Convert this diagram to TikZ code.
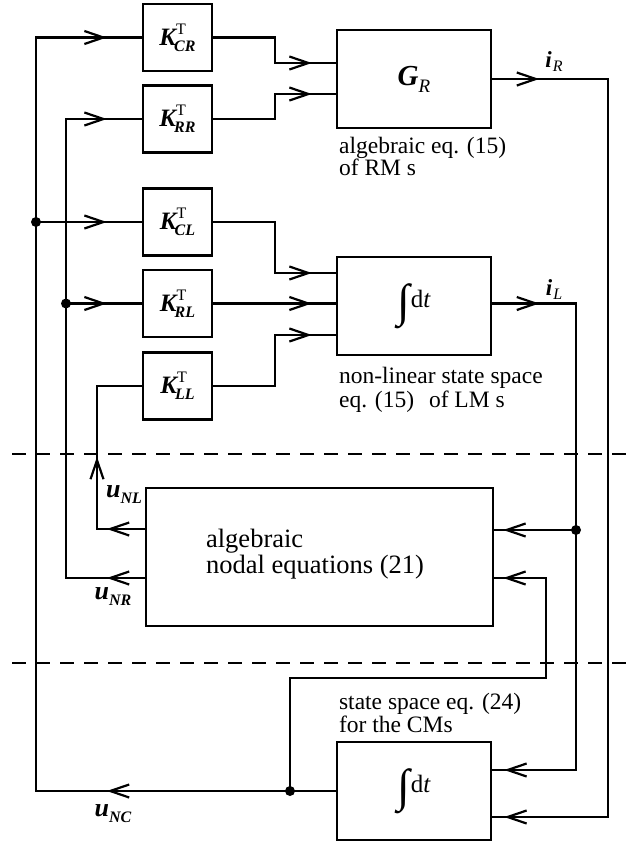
\documentclass[tikz,border=0pt]{standalone}
\usepackage{fontspec}
\setmainfont{Liberation Serif}
\usetikzlibrary{arrows.meta,decorations.markings}
\newcommand\KT[1]{{\fontsize{25}{25}\selectfont\bfseries\itshape K}\rlap{\raisebox{11pt}{\fontsize{16}{16}\selectfont T}}\raisebox{-6pt}{\kern-2pt\fontsize{16}{16}\selectfont\bfseries\itshape #1}}
\newcommand\uN[1]{{\fontsize{26}{26}\selectfont\bfseries\itshape u}\raisebox{-6pt}{\fontsize{16}{16}\selectfont\bfseries\itshape #1}}
\newcommand\iS[1]{{\fontsize{23}{23}\selectfont\bfseries\itshape i}\raisebox{-4pt}{\kern1pt\fontsize{16}{16}\selectfont\itshape #1}}
\newcommand\intdt{\raisebox{-9pt}{\fontsize{46}{46}\selectfont ∫}\kern1pt{\fontsize{25}{25}\selectfont d\textit{t}}}
\begin{document}
\begin{tikzpicture}[x=1pt,y=-1pt,line width=2.2pt,
  >={Straight Barb[length=19pt,width=13pt]},
  kbox/.style={draw,line width=2.4pt,minimum width=69pt,minimum height=67pt,inner sep=0pt},
  bigbox/.style={draw,line width=2.4pt,minimum width=154pt,minimum height=98pt,inner sep=0pt},
  arrs/.style={postaction={decorate,decoration={markings,#1}}},
  arrat/.style={arrs={mark=at position #1 with {\arrow{>}}}},
  jdot/.style={circle,fill,inner sep=0pt,minimum size=10pt},
  dashl/.style={line width=2pt,dash pattern=on 14pt off 10pt},
  lab/.style={inner sep=0pt},
  note/.style={anchor=base west,align=left,inner sep=0pt}]
\useasboundingbox (0,0) rectangle (631,844);
% blocks
\node[kbox] (kcr) at (177.5,37.5) {\KT{CR}};
\node[kbox] (krr) at (177.5,119) {\KT{RR}};
\node[kbox] (kcl) at (177.5,222) {\KT{CL}};
\node[kbox] (krl) at (177.5,303.5) {\KT{RL}};
\node[kbox] (kll) at (177.5,386) {\KT{LL}};
\node[bigbox] (gr) at (414,79) {{\fontsize{29}{29}\selectfont\bfseries\itshape G}\raisebox{-7pt}{\fontsize{19}{19}\selectfont\itshape R}};
\node[bigbox] (il) at (414,306) {\intdt};
\node[draw,line width=2.4pt,minimum width=347pt,minimum height=138pt,inner sep=0pt] (nod) at (319.5,557) {};
\node[bigbox] (ic) at (414,791) {\intdt};
% texts (base anchor = last line baseline)
\node[note,font=\fontsize{23.5}{22}\selectfont] (tgr) at (338,175) {algebraic eq. (15)\\of RM s};
\node[note,font=\fontsize{23.5}{24}\selectfont] (til) at (338,407) {non-linear state space\\eq. (15)\hspace{9pt} of LM s};
\node[note,font=\fontsize{26.5}{26}\selectfont] (tnod) at (205,573) {algebraic\\nodal equations (21)};
\node[note,font=\fontsize{23.5}{21}\selectfont] (tic) at (338,732) {state space eq. (24)\\for the CMs};
\node[lab] (liR) at (554,62) {\iS{R}};
\node[lab] (liL) at (554,290) {\iS{L}};
\node[lab] (luNL) at (124,495) {\uN{NL}};
\node[lab] (luNR) at (113,597) {\uN{NR}};
\node[lab] (luNC) at (113,814) {\uN{NC}};
% junctions
\coordinate (jA) at (36,222);
\coordinate (jB) at (66,303.5);
\coordinate (jC) at (290,791);
\coordinate (jD) at (576,530);
\coordinate (cA) at (36,791);
% dashed separators
\coordinate (d1l) at (12,454); \coordinate (d1r) at (631,454);
\coordinate (d2l) at (12,663); \coordinate (d2r) at (631,663);
\draw[dashl] (d1l) -- (d1r);
\draw[dashl] (d2l) -- (d2r);
% left buses
\draw[arrs={mark=at position 229pt with {\arrow{>}},mark=at position -35pt with {\arrow{>}}}] (ic.west) -- (cA) |- (kcr.west);
\draw[arrat=-35pt] (jA) -- (kcl.west);
\draw[arrs={mark=at position 38pt with {\arrow{>}},mark=at position -35pt with {\arrow{>}}}] (nod.west |- 0,578) -- (66,578) |- (krr.west);
\draw[arrat=-35pt] (jB) -- (krl.west);
\draw[arrs={mark=at position 38pt with {\arrow{>}},mark=at position 120pt with {\arrow{>}}}] (nod.west |- 0,529) -- (97,529) |- (kll.west);
% K outputs
\draw[arrat=-24pt] (kcr.east) -- (275,37.5) |- (gr.west |- 0,63);
\draw[arrat=-24pt] (krr.east) -- (275,119) |- (gr.west |- 0,94);
\draw[arrat=-24pt] (kcl.east) -- (275,222) |- (il.west |- 0,273);
\draw[arrat=-24pt] (krl.east) -- (il.west |- 0,303.5);
\draw[arrat=-24pt] (kll.east) -- (275,386) |- (il.west |- 0,335);
% right feedback
\draw[arrs={mark=at position 47pt with {\arrow{>}},mark=at position -12pt with {\arrow{>}}}] (gr.east) -| (608,817) -- (ic.east |- 0,817);
\draw[arrs={mark=at position 47pt with {\arrow{>}},mark=at position -12pt with {\arrow{>}}}] (il.east |- 0,303.5) -| (576,770) -- (ic.east |- 0,770);
\draw[arrat=-9pt] (jD) -- (nod.east |- jD);
\draw[arrat=-9pt] (jC) |- (546,678) |- (nod.east |- 0,578);
% dots
\node[jdot] at (jA) {};
\node[jdot] at (jB) {};
\node[jdot] at (jC) {};
\node[jdot] at (jD) {};
\end{tikzpicture}
\end{document}
